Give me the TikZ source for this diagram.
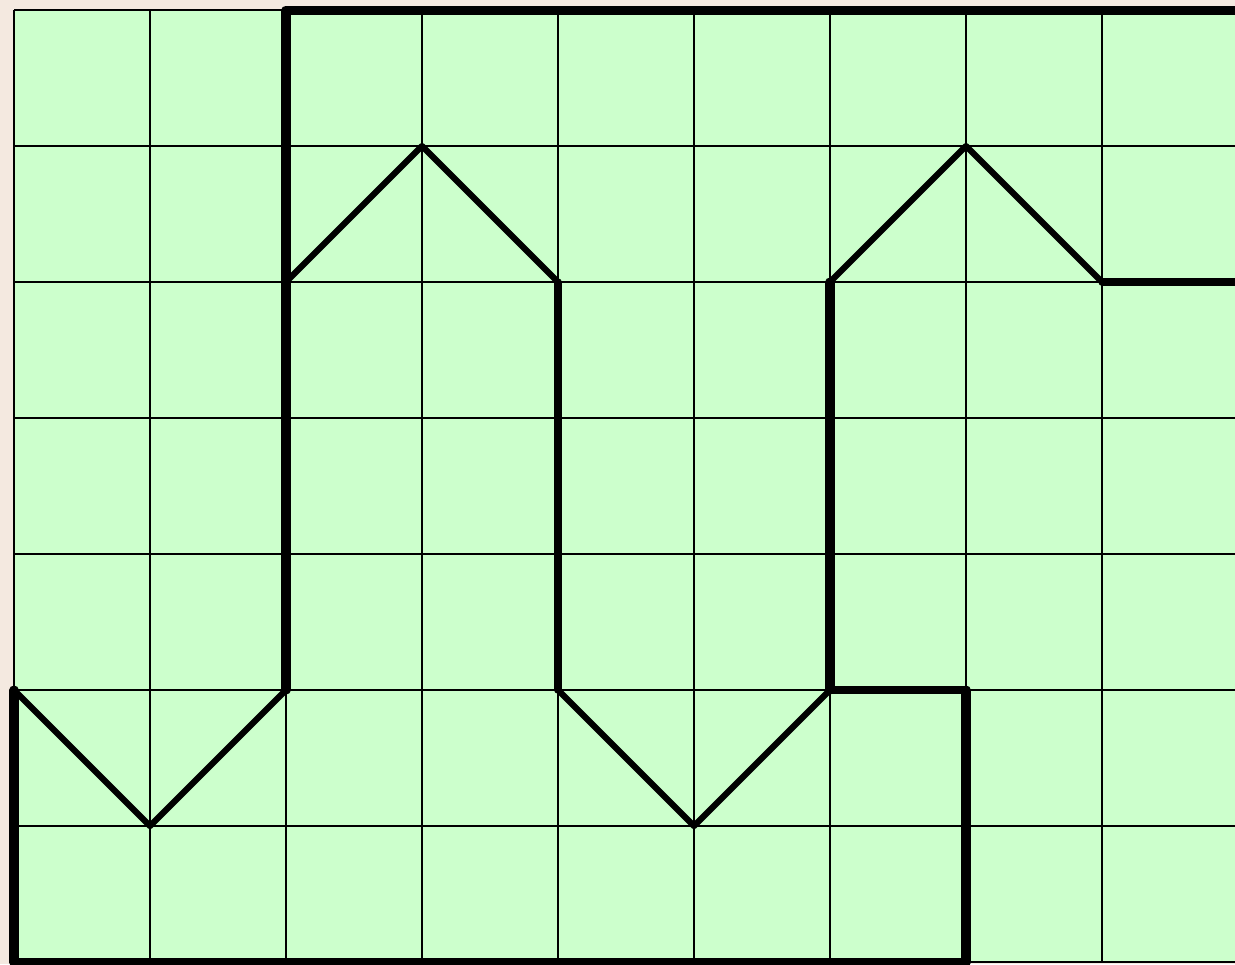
\documentclass[tikz,border=0pt]{standalone}
\usepackage{xcolor}
\definecolor{cellGreen}{RGB}{204, 255, 204}
\definecolor{paperBeige}{RGB}{244, 233, 224}
\usepackage{tikz}
\usetikzlibrary{calc}
\tikzset{
    gridline/.style={line width=0.4pt, black},
    wallthin/.style={line width=1.3pt, black, line join=round, line cap=round},
    wallmid/.style={line width=1.5pt, black, line join=round, line cap=round},
    wallthick/.style={line width=1.9pt, black, line join=round, line cap=round}
}
\begin{document}
\begin{tikzpicture}[xscale=1.0, yscale=1.0]
    \fill[paperBeige] (-0.103,-0.015) rectangle (8.978,7.074);
    \useasboundingbox (-0.103,-0.015) rectangle (8.978,7.074);
    \clip (-0.103,-0.015) rectangle (8.978,7.074);
    \fill[cellGreen] (0,0) rectangle (9.2,7);
    \foreach \x in {0,...,9} {
        \draw[gridline] (\x,0) -- (\x,7);
    }
    \foreach \y in {0,...,7} {
        \draw[gridline] (0,\y) -- (9.2,\y);
    }
    % outer walls
    \draw[wallthick] (0,2) -- (0,0) -- (7,0) -- (7,2);
    \draw[wallthick] (9.2,7) -- (2,7) -- (2,2);
    \draw[wallthick] (6,2) -- (6,5);
    \draw[wallmid] (7,2) -- (6,2);
    \draw[wallmid] (8,5) -- (9.2,5);
    \draw[wallmid] (4,5) -- (4,2);
    % zigzags
    \draw[wallthin] (0,2) -- (1,1) -- (2,2);
    \draw[wallthin] (2,5) -- (3,6) -- (4,5);
    \draw[wallthin] (4,2) -- (5,1) -- (6,2);
    \draw[wallthin] (6,5) -- (7,6) -- (8,5);
\end{tikzpicture}
\end{document}
